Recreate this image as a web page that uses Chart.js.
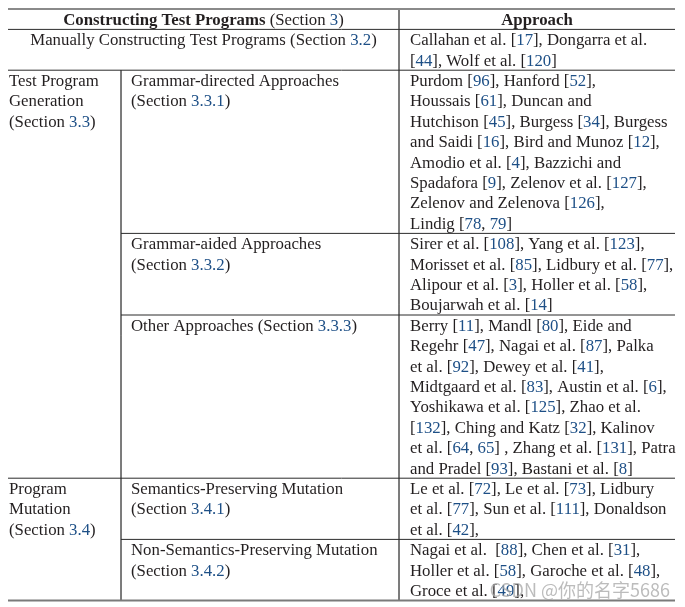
<!DOCTYPE html>
<html>
<head>
<meta charset="utf-8">
<script src="https://cdn.jsdelivr.net/npm/chart.js@4.4.1/dist/chart.umd.min.js"></script>
<style>
  html, body { margin: 0; padding: 0; background: #fff; }
</style>
</head>
<body>
<canvas id="surveyTable" width="685" height="607"></canvas>
<script>
// Table content. Text inside {...} is a cross-reference and is drawn in blue.
const headerLeft = 'Constructing Test Programs';
const headerLeftSection = ' (Section {3})';
const headerRight = 'Approach';

const groupLabels = [
    ['Test Program', 'Generation', '(Section {3.3})'],
    ['Program', 'Mutation', '(Section {3.4})']
];
// which category rows belong to which group (-1 = spans both label columns)
const categoryGroup = [-1, 0, 0, 0, 1, 1];

const categoryLabels = [
    ['Manually Constructing Test Programs (Section {3.2})'],
    ['Grammar-directed Approaches', '(Section {3.3.1})'],
    ['Grammar-aided Approaches', '(Section {3.3.2})'],
    ['Other Approaches (Section {3.3.3})'],
    ['Semantics-Preserving Mutation', '(Section {3.4.1})'],
    ['Non-Semantics-Preserving Mutation', '(Section {3.4.2})']
];

const approaches = [
    ['Callahan et al. [{17}], Dongarra et al.',
     '[{44}], Wolf et al. [{120}]'],
    ['Purdom [{96}], Hanford [{52}],',
     'Houssais [{61}], Duncan and',
     'Hutchison [{45}], Burgess [{34}], Burgess',
     'and Saidi [{16}], Bird and Munoz [{12}],',
     'Amodio et al. [{4}], Bazzichi and',
     'Spadafora [{9}], Zelenov et al. [{127}],',
     'Zelenov and Zelenova [{126}],',
     'Lindig [{78}, {79}]'],
    ['Sirer et al. [{108}], Yang et al. [{123}],',
     'Morisset et al. [{85}], Lidbury et al. [{77}],',
     'Alipour et al. [{3}], Holler et al. [{58}],',
     'Boujarwah et al. [{14}]'],
    ['Berry [{11}], Mandl [{80}], Eide and',
     'Regehr [{47}], Nagai et al. [{87}], Palka',
     'et al. [{92}], Dewey et al. [{41}],',
     'Midtgaard et al. [{83}], Austin et al. [{6}],',
     'Yoshikawa et al. [{125}], Zhao et al.',
     '[{132}], Ching and Katz [{32}], Kalinov',
     'et al. [{64}, {65}] , Zhang et al. [{131}], Patra',
     'and Pradel [{93}], Bastani et al. [{8}]'],
    ['Le et al. [{72}], Le et al. [{73}], Lidbury',
     'et al. [{77}], Sun et al. [{111}], Donaldson',
     'et al. [{42}],'],
    ['Nagai et al.  [{88}], Chen et al. [{31}],',
     'Holler et al. [{58}], Garoche et al. [{48}],',
     'Groce et al. [{49}],']
];

const watermark = 'CSDN @你的名字5686';

// layout
const W = 685, H = 607;
const LINE = 20.4;        // px per text line
const TOP = 9;            // top rule position
const COL = [8, 121, 399, 675];
const FONT = '"Liberation Serif", "DejaVu Serif", serif';
const FONT_SIZE = 16.8;
const INK = '#231f20';
const REF = '#1d4f86';

// rows in line units
const rowStart = [];
let cursor = 1; // header takes one line
approaches.forEach((lines, i) => {
    rowStart.push(cursor);
    cursor += Math.max(lines.length, categoryLabels[i].length);
});
const totalLines = cursor;

// rule segments, built from the row structure
const rules = [];
rules.push({ pts: [[COL[0], 0], [COL[3], 0]], w: 2, c: '#8a8a8a' });
rules.push({ pts: [[COL[0], 1], [COL[3], 1]], w: 1, c: '#2b2b2b' });
for (let i = 1; i < rowStart.length; i++) {
    const sameGroup = categoryGroup[i] === categoryGroup[i - 1] && categoryGroup[i] >= 0;
    rules.push({ pts: [[sameGroup ? COL[1] : COL[0], rowStart[i]], [COL[3], rowStart[i]]], w: 1, c: '#2b2b2b' });
}
rules.push({ pts: [[COL[0], totalLines], [COL[3], totalLines]], w: 2, c: '#7a7a7a' });
rules.push({ pts: [[COL[2], 0], [COL[2], totalLines]], w: 1, c: '#6a6a6a' });
rules.push({ pts: [[COL[1], rowStart[1]], [COL[1], totalLines]], w: 1, c: '#6a6a6a' });

function drawRich(ctx, text, x, y, align) {
    const parts = text.split(/(\{[^}]*\})/).filter(s => s.length);
    const segs = parts.map(p => p[0] === '{' ? { t: p.slice(1, -1), c: REF } : { t: p, c: INK });
    ctx.font = `${FONT_SIZE}px ${FONT}`;
    const width = segs.reduce((s, g) => s + ctx.measureText(g.t).width, 0);
    let cx = align === 'center' ? x - width / 2 : x;
    segs.forEach(g => {
        ctx.fillStyle = g.c;
        ctx.fillText(g.t, cx, y);
        cx += ctx.measureText(g.t).width;
    });
}

const tableText = {
    id: 'tableText',
    afterDatasetsDraw(chart) {
        const { ctx, scales: { x, y } } = chart;
        const midY = n => y.getPixelForValue(n + 0.5) + 5.5;
        ctx.save();
        ctx.textAlign = 'left';
        ctx.textBaseline = 'alphabetic';

        // header
        ctx.font = `bold ${FONT_SIZE}px ${FONT}`;
        const wBold = ctx.measureText(headerLeft).width;
        ctx.font = `${FONT_SIZE}px ${FONT}`;
        const wRest = ctx.measureText(headerLeftSection.replace(/[{}]/g, '')).width;
        const hx = (x.getPixelForValue(COL[0]) + x.getPixelForValue(COL[2])) / 2 - (wBold + wRest) / 2;
        ctx.font = `bold ${FONT_SIZE}px ${FONT}`;
        ctx.fillStyle = INK;
        ctx.fillText(headerLeft, hx, midY(0));
        drawRich(ctx, headerLeftSection, hx + wBold, midY(0), 'left');
        ctx.font = `bold ${FONT_SIZE}px ${FONT}`;
        ctx.fillStyle = INK;
        const wA = ctx.measureText(headerRight).width;
        ctx.fillText(headerRight, (x.getPixelForValue(COL[2]) + x.getPixelForValue(COL[3])) / 2 - wA / 2, midY(0));

        // group labels
        groupLabels.forEach((lines, g) => {
            const first = categoryGroup.indexOf(g);
            lines.forEach((t, k) => drawRich(ctx, t, x.getPixelForValue(COL[0] + 1), midY(rowStart[first] + k), 'left'));
        });

        // category labels
        categoryLabels.forEach((lines, i) => {
            lines.forEach((t, k) => {
                if (categoryGroup[i] < 0) {
                    drawRich(ctx, t, (x.getPixelForValue(COL[0]) + x.getPixelForValue(COL[2])) / 2, midY(rowStart[i] + k), 'center');
                } else {
                    drawRich(ctx, t, x.getPixelForValue(COL[1] + 10), midY(rowStart[i] + k), 'left');
                }
            });
        });

        // approaches
        approaches.forEach((lines, i) => {
            lines.forEach((t, k) => drawRich(ctx, t, x.getPixelForValue(COL[2] + 11), midY(rowStart[i] + k), 'left'));
        });

        // watermark
        ctx.font = '18px "Noto Sans CJK SC", "Noto Sans", sans-serif';
        ctx.fillStyle = 'rgba(165,165,165,0.75)';
        ctx.textAlign = 'right';
        ctx.fillText(watermark, x.getPixelForValue(670), y.getPixelForValue(totalLines) - 4);
        ctx.restore();
    }
};

new Chart(document.getElementById('surveyTable').getContext('2d'), {
    type: 'scatter',
    data: {
        datasets: rules.map(r => ({
            data: r.pts.map(p => ({ x: p[0], y: p[1] })),
            showLine: true,
            borderColor: r.c,
            borderWidth: r.w,
            pointRadius: 0,
            pointHoverRadius: 0
        }))
    },
    options: {
        responsive: false,
        animation: false,
        events: [],
        layout: { padding: 0 },
        plugins: { legend: { display: false }, tooltip: { enabled: false } },
        scales: {
            x: { type: 'linear', min: 0, max: W, display: false },
            y: { type: 'linear', min: -TOP / LINE, max: (H - TOP) / LINE, reverse: true, display: false }
        }
    },
    plugins: [tableText]
});
</script>
</body>
</html>
